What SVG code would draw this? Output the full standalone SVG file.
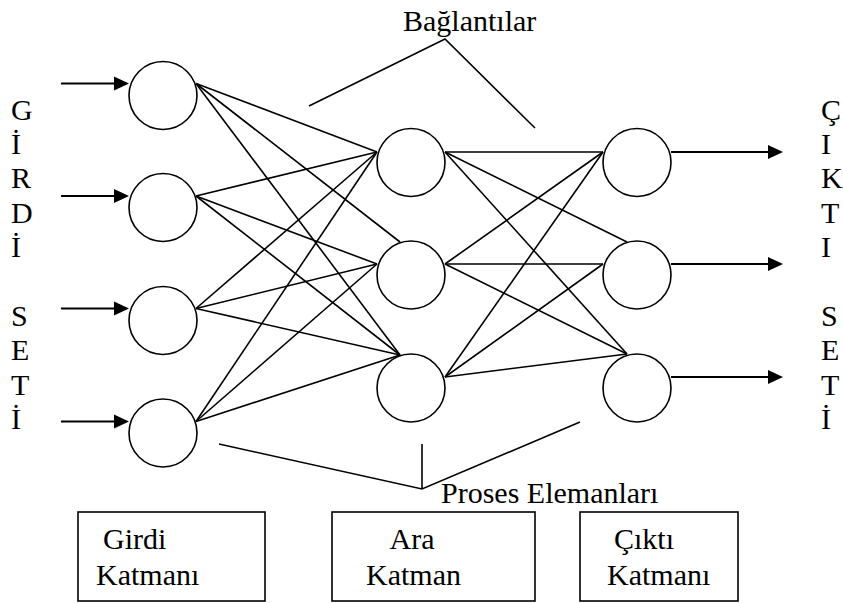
<svg xmlns="http://www.w3.org/2000/svg" width="843" height="603" viewBox="0 0 843 603" font-family="'Liberation Serif', 'Times New Roman', serif">
  <defs>
    <marker id="arrow" markerUnits="userSpaceOnUse" markerWidth="16" markerHeight="15" refX="7" refY="7" orient="auto" overflow="visible">
      <path d="M0,0 L15,7 L0,14 Z" fill="#000"/>
    </marker>
  </defs>
  <style>
    .node circle { fill: #fff; stroke: #000; stroke-width: 1.6; }
    .box rect { fill: #fff; stroke: #000; stroke-width: 1.6; }
    .wire { stroke: #000; stroke-width: 1.6; fill: none; }
    .io { stroke: #000; stroke-width: 1.8; fill: none; marker-end: url(#arrow); }
    text { font-family: "Liberation Serif", "Times New Roman", serif; font-size: 30px; fill: #000; }
  </style>

  <rect width="843" height="603" fill="#fff"/>

  <!-- side captions -->
  <g id="girdi-seti">
    <text x="11" y="119.5">G</text>
    <text x="11" y="153.9">İ</text>
    <text x="11" y="188.3">R</text>
    <text x="11" y="222.7">D</text>
    <text x="11" y="257.1">İ</text>
    <text x="11" y="325.9">S</text>
    <text x="11" y="360.3">E</text>
    <text x="11" y="394.7">T</text>
    <text x="11" y="429.1">İ</text>
  </g>
  <g id="cikti-seti">
    <text x="821" y="119.5">Ç</text>
    <text x="821" y="153.9">I</text>
    <text x="821" y="188.3">K</text>
    <text x="821" y="222.7">T</text>
    <text x="821" y="257.1">I</text>
    <text x="821" y="325.9">S</text>
    <text x="821" y="360.3">E</text>
    <text x="821" y="394.7">T</text>
    <text x="821" y="429.1">İ</text>
  </g>

  <!-- connectors -->
  <g id="connectors">
    <!-- inputs -->
    <line class="io" x1="61" y1="83.5" x2="121" y2="83.5"/>
    <line class="io" x1="61" y1="196" x2="121" y2="196"/>
    <line class="io" x1="61" y1="308.5" x2="121" y2="308.5"/>
    <line class="io" x1="61" y1="421.5" x2="121" y2="421.5"/>
    <!-- input layer to hidden layer -->
    <line class="wire" x1="196" y1="83.5" x2="377" y2="152"/>
    <line class="wire" x1="196" y1="83.5" x2="400" y2="242"/>
    <line class="wire" x1="196" y1="83.5" x2="400" y2="355"/>
    <line class="wire" x1="196" y1="196" x2="377" y2="152"/>
    <line class="wire" x1="196" y1="196" x2="377" y2="264"/>
    <line class="wire" x1="196" y1="196" x2="400" y2="355"/>
    <line class="wire" x1="196" y1="308.5" x2="377" y2="152"/>
    <line class="wire" x1="196" y1="308.5" x2="377" y2="264"/>
    <line class="wire" x1="196" y1="308.5" x2="400" y2="355"/>
    <line class="wire" x1="196" y1="421.5" x2="377" y2="152"/>
    <line class="wire" x1="196" y1="421.5" x2="377" y2="264"/>
    <line class="wire" x1="196" y1="421.5" x2="400" y2="355"/>
    <!-- hidden layer to output layer -->
    <line class="wire" x1="445" y1="152" x2="603" y2="152"/>
    <line class="wire" x1="445" y1="152" x2="627" y2="242"/>
    <line class="wire" x1="445" y1="152" x2="627" y2="354"/>
    <line class="wire" x1="445" y1="264" x2="603" y2="152"/>
    <line class="wire" x1="445" y1="264" x2="603" y2="264"/>
    <line class="wire" x1="445" y1="264" x2="627" y2="354"/>
    <line class="wire" x1="445" y1="377" x2="603" y2="152"/>
    <line class="wire" x1="445" y1="377" x2="603" y2="264"/>
    <line class="wire" x1="445" y1="377" x2="627" y2="354"/>
    <!-- outputs -->
    <line class="io" x1="671" y1="152" x2="775" y2="152"/>
    <line class="io" x1="671" y1="264" x2="775" y2="264"/>
    <line class="io" x1="671" y1="377" x2="775" y2="377"/>
    <!-- callout lines -->
    <polyline class="wire" points="309,106 445,39 535,128"/>
    <polyline class="wire" points="219,444 422,489 580,422"/>
    <line class="wire" x1="422" y1="444" x2="422" y2="488"/>
  </g>

  <!-- input layer -->
  <g id="girdi-1" class="node"><circle cx="163" cy="95.5" r="34"/></g>
  <g id="girdi-2" class="node"><circle cx="163" cy="207.5" r="34"/></g>
  <g id="girdi-3" class="node"><circle cx="163" cy="320.5" r="34"/></g>
  <g id="girdi-4" class="node"><circle cx="163" cy="433" r="34"/></g>
  <!-- hidden layer -->
  <g id="ara-1" class="node"><circle cx="411" cy="162.5" r="34"/></g>
  <g id="ara-2" class="node"><circle cx="411" cy="275" r="34"/></g>
  <g id="ara-3" class="node"><circle cx="411" cy="388" r="34"/></g>
  <!-- output layer -->
  <g id="cikti-1" class="node"><circle cx="637" cy="162.5" r="34"/></g>
  <g id="cikti-2" class="node"><circle cx="637" cy="275" r="34"/></g>
  <g id="cikti-3" class="node"><circle cx="637" cy="388" r="34"/></g>

  <!-- callout labels -->
  <g id="label-baglantilar"><text x="403" y="31">Bağlantılar</text></g>
  <g id="label-proses"><text x="441" y="503">Proses Elemanları</text></g>

  <!-- layer legend boxes -->
  <g id="box-girdi" class="box">
    <rect x="78" y="512" width="187" height="89"/>
    <text x="103" y="549">Girdi</text>
    <text x="96" y="585">Katmanı</text>
  </g>
  <g id="box-ara" class="box">
    <rect x="332" y="512" width="203" height="89"/>
    <text x="389.5" y="549">Ara</text>
    <text x="366" y="585">Katman</text>
  </g>
  <g id="box-cikti" class="box">
    <rect x="580" y="512" width="158" height="89"/>
    <text x="614" y="549">Çıktı</text>
    <text x="607" y="585">Katmanı</text>
  </g>
</svg>
